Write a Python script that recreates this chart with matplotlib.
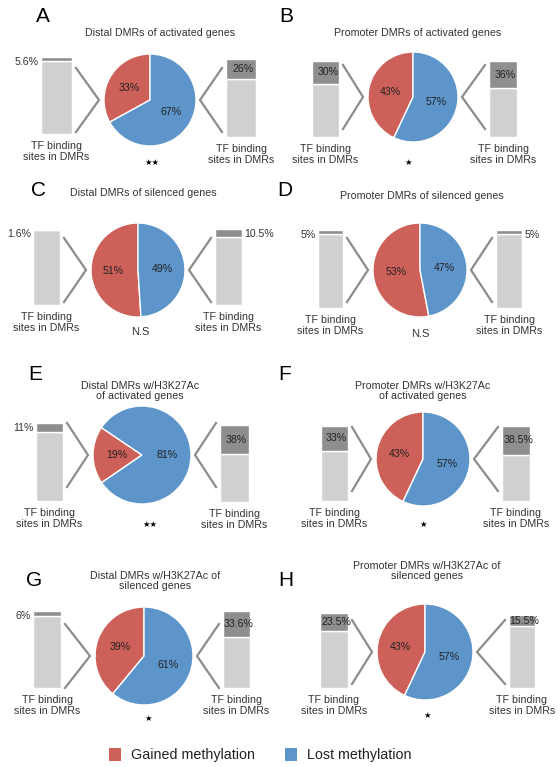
import matplotlib
matplotlib.use("Agg")
import matplotlib.pyplot as plt
from matplotlib.patches import Patch

plt.rcParams["font.family"] = ["Liberation Sans", "DejaVu Sans"]

# ---- data -------------------------------------------------------------
panel_letters = ["A", "B", "C", "D", "E", "F", "G", "H"]
panel_titles = [
    "Distal DMRs of activated genes",
    "Promoter DMRs of activated genes",
    "Distal DMRs of silenced genes",
    "Promoter DMRs of silenced genes",
    "Distal DMRs w/H3K27Ac\nof activated genes",
    "Promoter DMRs w/H3K27Ac\nof activated genes",
    "Distal DMRs w/H3K27Ac of\nsilenced genes",
    "Promoter DMRs w/H3K27Ac of\nsilenced genes",
]
gained_pct = [33, 43, 51, 53, 19, 43, 39, 43]
lost_pct = [67, 57, 49, 47, 81, 57, 61, 57]
tf_sites_gained = [5.6, 30, 1.6, 5, 11, 33, 6, 23.5]
tf_sites_lost = [26, 36, 10.5, 5, 38, 38.5, 33.6, 15.5]
significance = ["\u2605\u2605", "\u2605", "N.S", "N.S", "\u2605\u2605", "\u2605", "\u2605", "\u2605"]
legend_labels = ["Gained methylation", "Lost methylation"]
bar_label = "TF binding\nsites in DMRs"

# ---- style ------------------------------------------------------------
RED = "#CD615A"
BLUE = "#5D95CB"
DARK = "#8E8E8E"
LIGHT = "#D0D0D0"
CHEVRON = "#8C8C8C"
TXT = "#333333"

W, H = 560, 767
fig = plt.figure(figsize=(W / 100, H / 100), dpi=100)

# panel geometry in pixels (x right, y down)
layout = [
    dict(letter=(43, 17), title=(160, 33), start=90, pie=(150, 100, 46), lbar=(41, 72, 57, 134), rbar=(226, 256, 59, 137), mark=(152, 162)),
    dict(letter=(286, 17), title=(418, 33), start=90, pie=(413, 97, 45), lbar=(312, 339, 61, 137), rbar=(489, 517, 61, 137), mark=(408, 162)),
    dict(letter=(38, 191), title=(143, 193), start=90, pie=(138, 270, 47), lbar=(33, 60, 229, 305), rbar=(215, 242, 229, 305), mark=(140, 332)),
    dict(letter=(285, 191), title=(422, 196), start=90, pie=(420, 270, 47), lbar=(318, 343, 230, 308), rbar=(496, 522, 230, 308), mark=(420, 334)),
    dict(letter=(35, 374), title=(140, 391), start=146, pie=(142, 455, 49), lbar=(36, 63, 423, 501), rbar=(220, 249, 425, 502), mark=(150, 524)),
    dict(letter=(285, 374), title=(423, 391), start=90, pie=(423, 459, 47), lbar=(321, 348, 426, 501), rbar=(502, 530, 426, 501), mark=(423, 524)),
    dict(letter=(34, 580), title=(155, 581), start=90, pie=(144, 656, 49), lbar=(33, 61, 611, 688), rbar=(223, 250, 611, 688), mark=(148, 718)),
    dict(letter=(286, 580), title=(427, 571), start=90, pie=(425, 652, 48), lbar=(320, 348, 613, 688), rbar=(509, 535, 615, 688), mark=(427, 715)),
]


def px_axes(x0, x1, y0, y1):
    return fig.add_axes([x0 / W, 1 - y1 / H, (x1 - x0) / W, (y1 - y0) / H])


# overlay in pixel coordinates for annotations and connectors
ov = fig.add_axes([0, 0, 1, 1])
ov.set_xlim(0, W)
ov.set_ylim(H, 0)
ov.axis("off")
ov.patch.set_alpha(0)


def fmt(v):
    return f"{v:g}%"


def draw_bar(box, pct, side):
    x0, x1, y0, y1 = box
    ax = px_axes(x0, x1, y0, y1)
    ax.bar(0, 100 - pct, width=1, color=LIGHT, edgecolor="white", linewidth=1.0)
    ax.bar(0, pct, bottom=100 - pct, width=1, color=DARK, edgecolor="white", linewidth=1.0)
    ax.set_xlim(-0.5, 0.5)
    ax.set_ylim(0, 100)
    ax.axis("off")
    if pct >= 15:
        ax.annotate(fmt(pct), xy=(0, 100 - pct / 2), xytext=(1.5, 0),
                    textcoords="offset points", ha="center", va="center",
                    fontsize=7.6, color="#222222", annotation_clip=False)
    elif side == "left":
        ax.annotate(fmt(pct), xy=(-0.5, 100), xytext=(-1.5, -3.5),
                    textcoords="offset points", ha="right", va="center",
                    fontsize=7.6, color=TXT, annotation_clip=False)
    else:
        ax.annotate(fmt(pct), xy=(0.5, 100), xytext=(1.5, -3.5),
                    textcoords="offset points", ha="left", va="center",
                    fontsize=7.6, color=TXT, annotation_clip=False)
    ov.text((x0 + x1) / 2, y1 + 7, bar_label, ha="center", va="top",
            fontsize=7.7, color=TXT, linespacing=1.1)


for i, lay in enumerate(layout):
    cx, cy, r = lay["pie"]

    # pie of gained vs lost methylation
    pax = px_axes(cx - r, cx + r, cy - r, cy + r)
    wedges, texts, autotexts = pax.pie(
        [gained_pct[i], lost_pct[i]],
        colors=[RED, BLUE],
        startangle=lay["start"],
        counterclock=True,
        radius=1,
        autopct=lambda p: f"{round(p)}%",
        pctdistance=0.52,
        textprops=dict(fontsize=7.6, color="#222222"),
        wedgeprops=dict(edgecolor="white", linewidth=1.0),
    )
    pax.set_xlim(-1, 1)
    pax.set_ylim(-1, 1)
    pax.axis("off")

    # side bars: TF binding site fraction
    draw_bar(lay["lbar"], tf_sites_gained[i], "left")
    draw_bar(lay["rbar"], tf_sites_lost[i], "right")

    # chevron connectors between bars and pie
    lx = lay["lbar"][1] + 4
    ov.plot([lx, cx - r - 5, lx], [cy - 32, cy, cy + 32], color=CHEVRON, lw=1.6,
            solid_joinstyle="miter")
    rx = lay["rbar"][0] - 4
    ov.plot([rx, cx + r + 4, rx], [cy - 32, cy, cy + 32], color=CHEVRON, lw=1.6,
            solid_joinstyle="miter")

    # titles, panel letters, significance marks
    tx, ty = lay["title"]
    ov.text(tx, ty, panel_titles[i], ha="center", va="center", fontsize=7.7,
            color=TXT, linespacing=1.1)
    lx_, ly_ = lay["letter"]
    ov.text(lx_, ly_, panel_letters[i], ha="center", va="center", fontsize=15,
            color="black")
    mx, my = lay["mark"]
    if significance[i].startswith("N"):
        ov.text(mx, my, significance[i], ha="center", va="center", fontsize=8,
                color=TXT)
    else:
        ov.text(mx, my, significance[i], ha="center", va="center", fontsize=6,
                color="black", family=["DejaVu Sans"])

handles = [Patch(facecolor=RED, edgecolor="none"), Patch(facecolor=BLUE, edgecolor="none")]
fig.legend(handles, legend_labels, loc="center", bbox_to_anchor=(260 / W, 1 - 755 / H),
           ncol=2, frameon=False, fontsize=10.3, handlelength=0.85, handleheight=1.0,
           handletextpad=0.7, columnspacing=2.1, borderpad=0, labelcolor="#222222")

fig.savefig("out.png", dpi=100, facecolor="white")
